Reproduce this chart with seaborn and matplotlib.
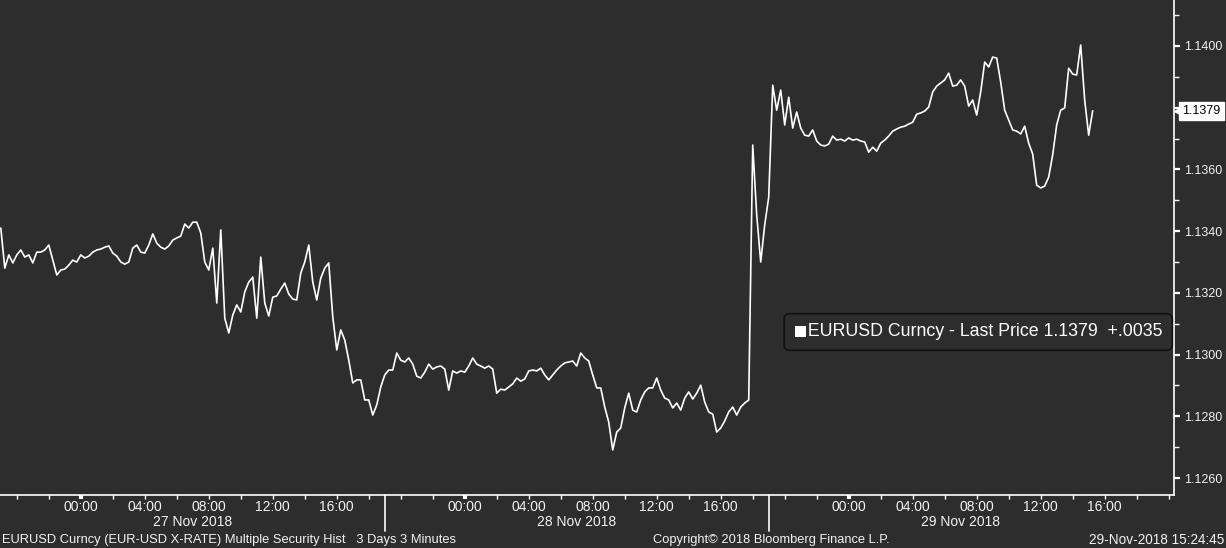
import numpy as np
import pandas as pd
import seaborn as sns
import matplotlib.pyplot as plt
import matplotlib.dates as mdates
import matplotlib.transforms as mtrans
from matplotlib.patches import Rectangle
from matplotlib.ticker import FuncFormatter, MultipleLocator

# 15 minute closes, one list per session (sessions roll at 19:00)
start = '2018-11-26 19:00'
step = '15min'

session_27nov = [
    1.13410, 1.13280, 1.13323, 1.13297, 1.13323, 1.13339, 1.13316, 1.13323, 1.13297, 1.13332,
    1.13332, 1.13339, 1.13355, 1.13306, 1.13258, 1.13274, 1.13277, 1.13290, 1.13306, 1.13300,
    1.13323, 1.13313, 1.13319, 1.13332, 1.13339, 1.13342, 1.13348, 1.13352, 1.13329, 1.13319,
    1.13300, 1.13293, 1.13300, 1.13345, 1.13355, 1.13332, 1.13329, 1.13355, 1.13391, 1.13361,
    1.13348, 1.13342, 1.13352, 1.13371, 1.13378, 1.13384, 1.13423, 1.13410, 1.13429, 1.13429,
    1.13394, 1.13300, 1.13274, 1.13345, 1.13167, 1.13404, 1.13118, 1.13070, 1.13128, 1.13161,
    1.13138, 1.13203, 1.13235, 1.13251, 1.13118, 1.13316, 1.13167, 1.13125, 1.13186, 1.13190,
    1.13212, 1.13232, 1.13196, 1.13180, 1.13177, 1.13264, 1.13300, 1.13355, 1.13235, 1.13177,
    1.13248, 1.13280, 1.13297, 1.13122, 1.13015, 1.13080, 1.13047, 1.12982, 1.12908, 1.12918,
    1.12918, 1.12853, 1.12853, 1.12804, 1.12837, 1.12895,
]
session_28nov = [
    1.12934, 1.12950, 1.12950, 1.13005,
    1.12982, 1.12976, 1.12989, 1.12969, 1.12930, 1.12924, 1.12943, 1.12969, 1.12953, 1.12960,
    1.12963, 1.12953, 1.12885, 1.12947, 1.12940, 1.12947, 1.12943, 1.12963, 1.12989, 1.12969,
    1.12963, 1.12956, 1.12963, 1.12953, 1.12875, 1.12888, 1.12885, 1.12895, 1.12905, 1.12924,
    1.12914, 1.12921, 1.12947, 1.12950, 1.12947, 1.12956, 1.12934, 1.12918, 1.12934, 1.12950,
    1.12963, 1.12973, 1.12976, 1.12979, 1.12963, 1.13005, 1.12989, 1.12979, 1.12934, 1.12892,
    1.12892, 1.12830, 1.12781, 1.12691, 1.12749, 1.12762, 1.12827, 1.12875, 1.12820, 1.12814,
    1.12853, 1.12879, 1.12892, 1.12892, 1.12924, 1.12885, 1.12859, 1.12853, 1.12827, 1.12843,
    1.12820, 1.12859, 1.12879, 1.12856, 1.12875, 1.12901, 1.12846, 1.12814, 1.12807, 1.12749,
    1.12762, 1.12785, 1.12814, 1.12830, 1.12804, 1.12830, 1.12843, 1.12853,
    1.13679, 1.13452, 1.13300, 1.13420,
]
session_29nov = [
    1.13510, 1.13873, 1.13792, 1.13857, 1.13744, 1.13834,
    1.13734, 1.13786, 1.13734, 1.13711, 1.13708, 1.13728, 1.13692, 1.13679, 1.13676, 1.13682,
    1.13708, 1.13695, 1.13698, 1.13692, 1.13702, 1.13695, 1.13698, 1.13692, 1.13689, 1.13656,
    1.13672, 1.13659, 1.13685, 1.13695, 1.13708, 1.13724, 1.13731, 1.13737, 1.13740, 1.13747,
    1.13753, 1.13779, 1.13783, 1.13789, 1.13802, 1.13851, 1.13870, 1.13880, 1.13890, 1.13912,
    1.13870, 1.13873, 1.13890, 1.13870, 1.13805, 1.13825, 1.13776, 1.13851, 1.13948, 1.13932,
    1.13964, 1.13961, 1.13883, 1.13792, 1.13760, 1.13728, 1.13724, 1.13715, 1.13740, 1.13685,
    1.13650, 1.13549, 1.13540, 1.13546, 1.13575, 1.13647, 1.13744, 1.13792, 1.13799, 1.13928,
    1.13909, 1.13906, 1.14003, 1.13825, 1.13711, 1.13790,
]

last_price = 1.1379
change = '+.0035'
series_name = 'EURUSD Curncy'
y_ticks = [1.1260, 1.1280, 1.1300, 1.1320, 1.1340, 1.1360, 1.1380, 1.1400]
day_labels = ['27 Nov 2018', '28 Nov 2018', '29 Nov 2018']
day_breaks = ['2018-11-27 19:00', '2018-11-28 19:00']
day_ends = ['2018-11-26 18:57', '2018-11-27 19:00', '2018-11-28 19:00', '2018-11-29 19:00']
labelled_hours = [0, 4, 8, 12, 16]
x_range = ('2018-11-26 18:57', '2018-11-29 20:20')
y_range = (1.12545, 1.14149)
footer_left = 'EURUSD Curncy (EUR-USD X-RATE) Multiple Security Hist   3 Days 3 Minutes'
footer_mid = 'Copyright\u00a9 2018 Bloomberg Finance L.P.'
footer_right = '29-Nov-2018 15:24:45'

bg = '#2d2d2d'
fg = '#f2f2f2'
sns.set_style('dark', {'axes.facecolor': bg, 'figure.facecolor': bg})
plt.rcParams['font.family'] = ['Liberation Sans', 'DejaVu Sans']

prices = session_27nov + session_28nov + session_29nov
df = pd.DataFrame({'time': pd.date_range(start, periods=len(prices), freq=step),
                   'price': prices})

W, H = 1226, 548
fig = plt.figure(figsize=(W / 100, H / 100), dpi=100)
ax = fig.add_axes([0, 53 / H, 1174 / W, 495 / H])
sns.lineplot(data=df, x='time', y='price', ax=ax, color='white', lw=1.2)

ax.set_xlim(pd.Timestamp(x_range[0]), pd.Timestamp(x_range[1]))
ax.set_ylim(*y_range)
ax.set_xlabel('')
ax.set_ylabel('')
ax.grid(False)

for s in ['left', 'top']:
    ax.spines[s].set_visible(False)
for s in ['right', 'bottom']:
    ax.spines[s].set_visible(True)
    ax.spines[s].set_color('white')
    ax.spines[s].set_linewidth(1.2)

# right hand price axis, the label under the price tag is left out
ax.yaxis.tick_right()
ax.set_yticks(y_ticks)
ax.yaxis.set_major_formatter(
    FuncFormatter(lambda v, p: '' if abs(v - last_price) < 0.0005 else f'{v:.4f}'))
ax.yaxis.set_minor_locator(MultipleLocator(0.001))
ax.tick_params(axis='y', which='major', direction='out', length=4.5, width=1.6,
               color='white', labelcolor=fg, labelsize=9, pad=3, right=True, left=False)
ax.tick_params(axis='y', which='minor', direction='out', length=3.5, width=1,
               color='white', right=True, left=False)

# time axis
ax.xaxis.set_major_locator(mdates.HourLocator(byhour=range(0, 24, 2)))


def hour_label(v, p):
    d = mdates.num2date(v)
    return d.strftime('%H:%M') if d.hour in labelled_hours else ''


ax.xaxis.set_major_formatter(FuncFormatter(hour_label))
ax.tick_params(axis='x', which='major', direction='out', length=3, width=1,
               color='white', labelcolor=fg, labelsize=10, pad=0.8, bottom=True)
ax.xaxis.set_minor_locator(plt.NullLocator())
for loc, tick in zip(ax.xaxis.get_majorticklocs(), ax.xaxis.get_major_ticks()):
    if mdates.num2date(loc).hour == 0:
        tick.tick1line.set_markeredgewidth(3)

trans_x = mtrans.blended_transform_factory(ax.transData, ax.transAxes)
for b in day_breaks:
    t = mdates.date2num(pd.Timestamp(b))
    ax.plot([t, t], [0, -0.072], color='white', lw=1.2, transform=trans_x, clip_on=False)

for i, lab in enumerate(day_labels):
    a = mdates.date2num(pd.Timestamp(day_ends[i]))
    b = mdates.date2num(pd.Timestamp(day_ends[i + 1]))
    ax.text((a + b) / 2, -0.0545, lab, transform=trans_x, ha='center', va='center',
            color=fg, fontsize=10)

# last price tag on the axis
trans_y = mtrans.blended_transform_factory(ax.transAxes, ax.transData)
ax.plot([1.0045], [last_price], marker='<', ms=7, color='white', transform=trans_y,
        clip_on=False, zorder=6)
ax.annotate(f'{last_price:.4f}', xy=(1, last_price), xycoords=trans_y, xytext=(6, 0),
            textcoords='offset points', ha='left', va='center', color='black', fontsize=9,
            annotation_clip=False, zorder=7,
            bbox=dict(boxstyle='square,pad=0.25', fc='white', ec='white'))

# legend box, the white square is drawn on top of the leading spaces
fig.text(794 / W, 1 - 332 / H, f'\u2002 {series_name} - Last Price {last_price:.4f}  {change}',
         ha='left', va='center', color='white', fontsize=12.8,
         bbox=dict(boxstyle='round,pad=0.55,rounding_size=0.3', fc=bg, ec='#111111', lw=1.2))
fig.patches.append(Rectangle((795 / W, 1 - 337 / H), 11 / W, 11 / H, transform=fig.transFigure,
                             fc='white', ec='none', zorder=5))

fig.text(2 / W, 1 - 540 / H, footer_left, ha='left', va='center', color=fg, fontsize=9.3)
fig.text(771 / W, 1 - 540 / H, footer_mid, ha='center', va='center', color=fg, fontsize=9.3)
fig.text(1224 / W, 1 - 540 / H, footer_right, ha='right', va='center', color=fg, fontsize=9.8)

fig.savefig('out.png', dpi=100, facecolor=bg)
